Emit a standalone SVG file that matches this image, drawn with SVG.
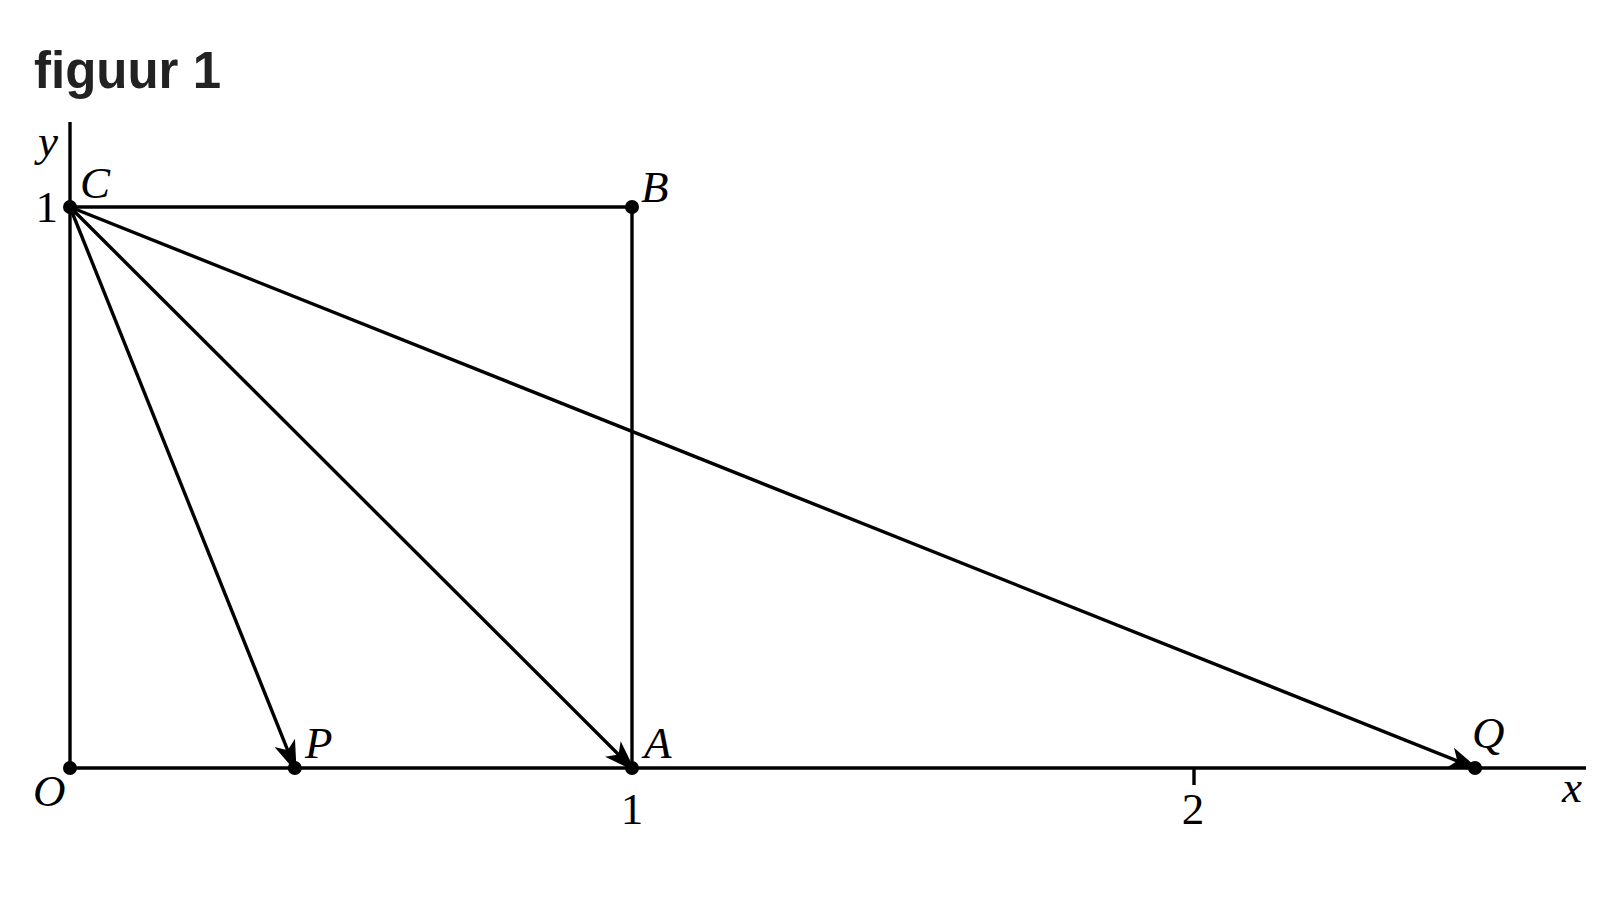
<svg xmlns="http://www.w3.org/2000/svg" width="1618" height="897" viewBox="0 0 1618 897">
<style>
.ln{stroke:#000;stroke-width:3.4;fill:none}
.dot{fill:#000}
.lbl{font-family:"Liberation Serif","Times New Roman",serif;font-style:italic;font-size:45px;fill:#000}
.num{font-family:"Liberation Serif","Times New Roman",serif;font-size:45px;fill:#000}
.title{font-family:"Liberation Sans",Arial,sans-serif;font-weight:bold;font-size:51px;fill:#222}
</style>
<defs>
<marker id="arr" markerUnits="userSpaceOnUse" viewBox="-34 -13 36 26" refX="-5" refY="0" markerWidth="36" markerHeight="26" orient="auto">
<path d="M0,0 L-32,-11 L-24,0 L-32,11 Z" fill="#000"/>
</marker>
</defs>
<rect width="1618" height="897" fill="#fff"/>
<text class="title" x="34" y="88">figuur 1</text>
<g id="axes">
<line class="ln" x1="70" y1="122" x2="70" y2="768"/>
<line class="ln" x1="70" y1="768" x2="1586" y2="768"/>
<line class="ln" x1="1194" y1="768" x2="1194" y2="785"/>
<text class="lbl" x="38" y="156">y</text>
<text class="lbl" x="1562" y="802">x</text>
<text class="num" x="58" y="222" text-anchor="end">1</text>
<text class="num" x="632" y="824" text-anchor="middle">1</text>
<text class="num" x="1193" y="824" text-anchor="middle">2</text>
</g>
<g id="connectors">
<line class="ln" x1="70" y1="207" x2="632" y2="207"/>
<line class="ln" x1="632" y1="207" x2="632" y2="768"/>
<line class="ln" x1="70" y1="207" x2="294.8" y2="768" marker-end="url(#arr)"/>
<line class="ln" x1="70" y1="207" x2="632" y2="768" marker-end="url(#arr)"/>
<line class="ln" x1="70" y1="207" x2="1475" y2="768" marker-end="url(#arr)"/>
</g>
<g id="node-O"><circle class="dot" cx="70" cy="768" r="7"/><text class="lbl" x="33" y="806">O</text></g>
<g id="node-C"><circle class="dot" cx="70" cy="207" r="7"/><text class="lbl" x="80" y="198">C</text></g>
<g id="node-B"><circle class="dot" cx="632" cy="207" r="7"/><text class="lbl" x="641" y="202">B</text></g>
<g id="node-A"><circle class="dot" cx="632" cy="768" r="7"/><text class="lbl" x="644" y="758">A</text></g>
<g id="node-P"><circle class="dot" cx="294.8" cy="768" r="7"/><text class="lbl" x="305" y="758">P</text></g>
<g id="node-Q"><circle class="dot" cx="1475" cy="768" r="7"/><text class="lbl" x="1472" y="748">Q</text></g>
</svg>
